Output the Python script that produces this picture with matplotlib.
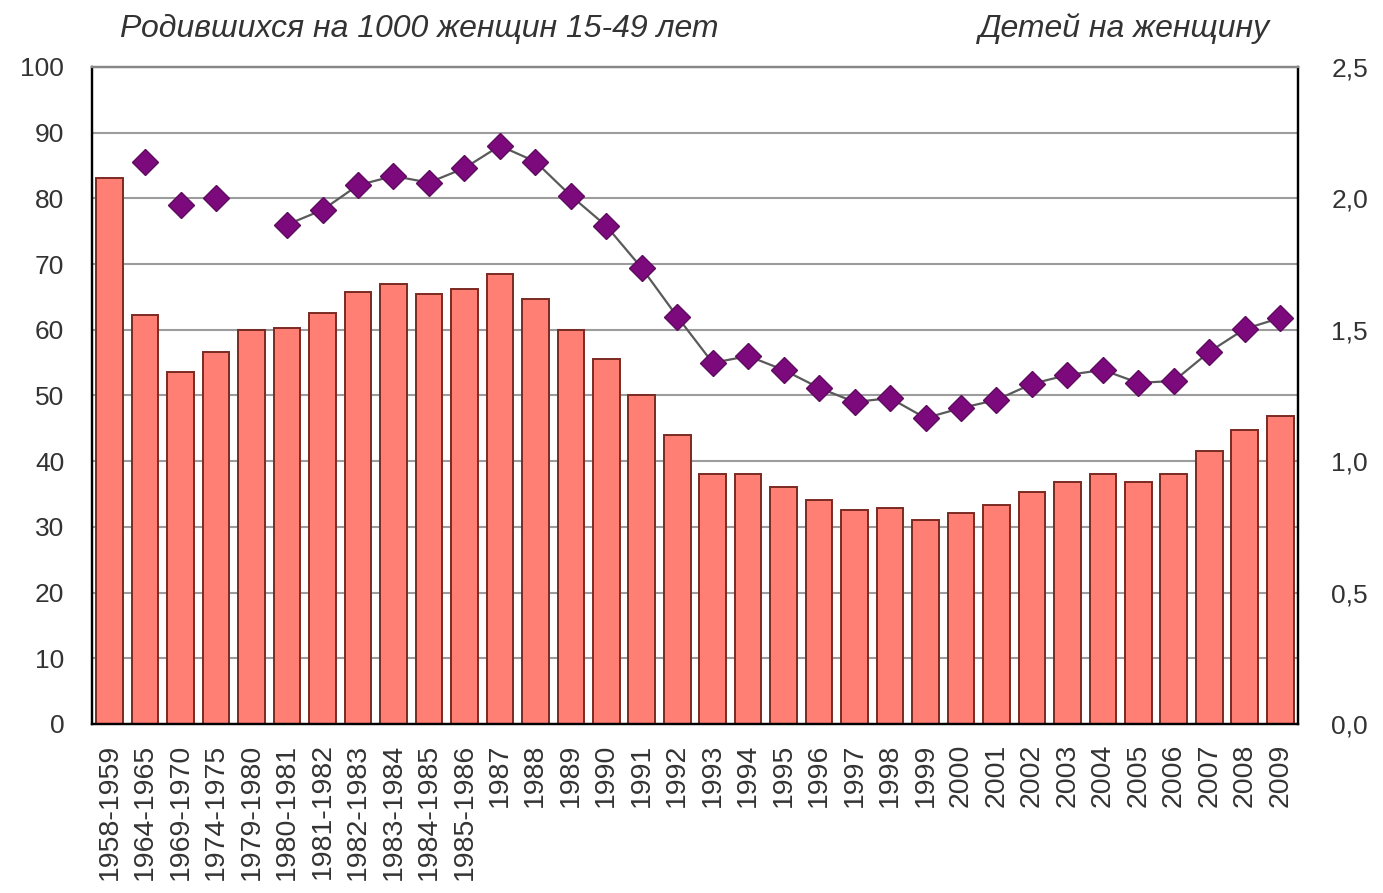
import numpy as np
import matplotlib.pyplot as plt
from matplotlib.ticker import FuncFormatter

plt.rcParams['font.family'] = ['Liberation Sans', 'DejaVu Sans']

# Периоды / годы
periods = ['1958-1959', '1964-1965', '1969-1970', '1974-1975', '1979-1980',
           '1980-1981', '1981-1982', '1982-1983', '1983-1984', '1984-1985',
           '1985-1986', '1987', '1988', '1989', '1990', '1991', '1992', '1993',
           '1994', '1995', '1996', '1997', '1998', '1999', '2000', '2001',
           '2002', '2003', '2004', '2005', '2006', '2007', '2008', '2009']

# Родившихся на 1000 женщин 15-49 лет (левая ось)
births_per_1000 = [83.1, 62.3, 53.6, 56.6, 60.0, 60.3, 62.6, 65.8, 67.0, 65.4,
                   66.2, 68.5, 64.7, 60.0, 55.6, 50.1, 44.0, 38.1, 38.1, 36.1,
                   34.1, 32.6, 32.9, 31.1, 32.1, 33.3, 35.3, 36.8, 38.1, 36.8,
                   38.1, 41.6, 44.7, 46.9]

# Детей на женщину (правая ось), nan - нет данных
tfr = [np.nan, 2.14, 1.975, 2.00, np.nan, 1.90, 1.956, 2.05, 2.085, 2.06,
       2.115, 2.20, 2.14, 2.01, 1.895, 1.735, 1.55, 1.374, 1.40, 1.347,
       1.279, 1.225, 1.24, 1.164, 1.202, 1.233, 1.294, 1.328, 1.347, 1.298,
       1.305, 1.416, 1.503, 1.545]

line_start = 5  # линия соединяет точки начиная с 1980-1981

x = np.arange(len(periods))
tfr = np.array(tfr)

fig = plt.figure(figsize=(13.83, 8.93), dpi=100)
ax = fig.add_axes([0.0665, 0.1893, 0.872, 0.7357])
ax2 = ax.twinx()

ax.set_axisbelow(True)
ax.bar(x, births_per_1000, width=0.75, color='#FF7F74', edgecolor='#7A2A22',
       linewidth=1.4, zorder=2)
ax.set_xlim(-0.5, len(periods) - 0.5)
ax.set_ylim(0, 100)
ax.set_yticks(np.arange(0, 101, 10))
ax.yaxis.grid(True, color='#9C9C9C', linewidth=1.5, zorder=0)
ax.tick_params(axis='y', length=0, pad=20, labelsize=19, labelcolor='#333333')
ax.set_xticks(x)
ax.set_xticklabels(periods, rotation=90, fontsize=20.5, color='#333333')
ax.tick_params(axis='x', length=0, pad=14)

ax2.plot(x[line_start:], tfr[line_start:], color='#5A5A5A', linewidth=1.6,
         zorder=3)
ax2.plot(x, tfr, linestyle='none', marker='D', markersize=13,
         markerfacecolor='#7D0A7D', markeredgecolor='#5E0A5E',
         markeredgewidth=1, zorder=4)
ax2.set_ylim(0, 2.5)
ax2.set_yticks(np.arange(0, 2.51, 0.5))
ax2.yaxis.set_major_formatter(FuncFormatter(lambda v, p: f'{v:.1f}'.replace('.', ',')))
ax2.tick_params(axis='y', length=0, pad=24, labelsize=19, labelcolor='#333333')

for a in (ax, ax2):
    a.spines['left'].set_color('black')
    a.spines['right'].set_color('black')
    a.spines['bottom'].set_color('black')
    a.spines['top'].set_color('#888888')
    for s in a.spines.values():
        s.set_linewidth(1.6)

fig.text(0.087, 0.968, 'Родившихся на 1000 женщин 15-49 лет', fontsize=23,
         style='italic', color='#333333', va='center', ha='left')
fig.text(0.918, 0.968, 'Детей на женщину', fontsize=23,
         style='italic', color='#333333', va='center', ha='right')

fig.savefig('out.png', dpi=100)
